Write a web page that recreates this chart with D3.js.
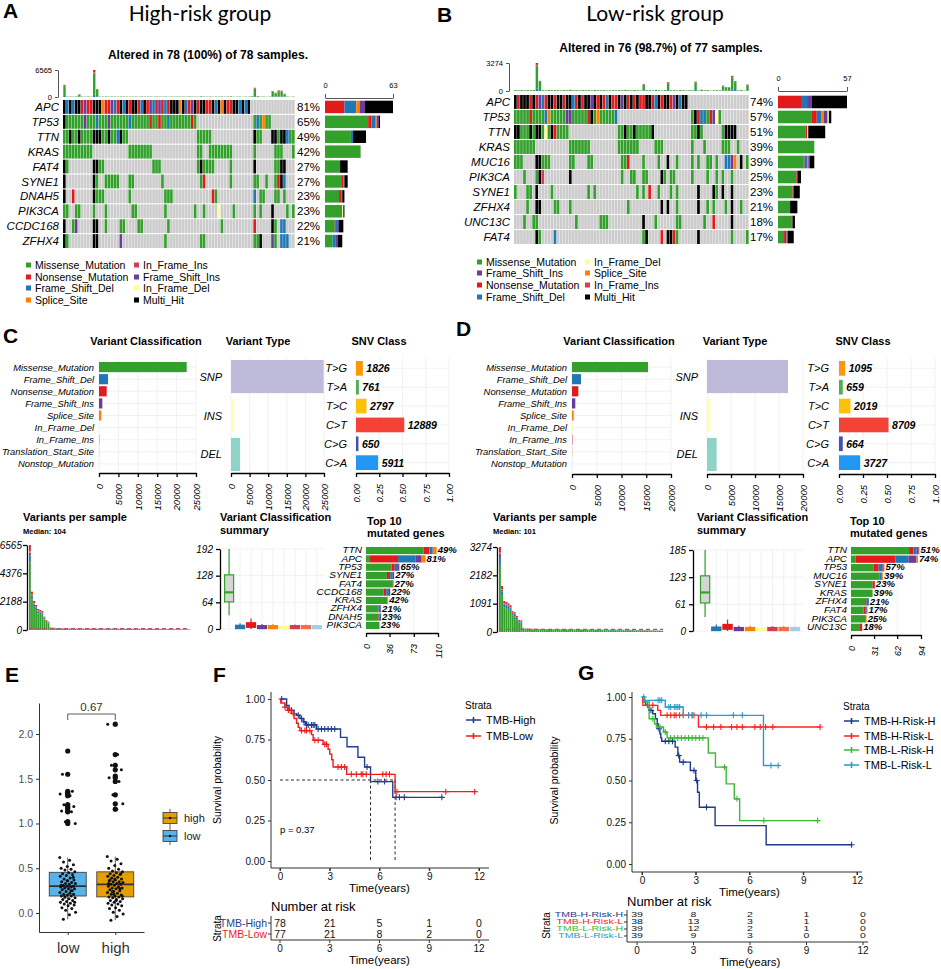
<!DOCTYPE html>
<html>
<head>
<meta charset="utf-8">
<script src="https://cdn.jsdelivr.net/npm/d3@7"></script>
<style>
  body { margin: 0; background: #fff; }
  svg { display: block; }
</style>
</head>
<body>
<svg id="fig" width="941" height="969"></svg>
<script>
const FONT = "'Liberation Sans', Arial, Helvetica, sans-serif";
const TFONT = "Lato, 'Open Sans', sans-serif";

// ---------------- data ----------------
const vcNames = ["Missense_Mutation","Frame_Shift_Del","Nonsense_Mutation","Frame_Shift_Ins","Splice_Site",
  "In_Frame_Del","In_Frame_Ins","Translation_Start_Site","Nonstop_Mutation"];
const vcColors = {
  Missense_Mutation: "#33A02C", Nonsense_Mutation: "#E31A1C", Frame_Shift_Del: "#1F78B4",
  Frame_Shift_Ins: "#6A3D9A", Splice_Site: "#FF7F00", In_Frame_Del: "#FFFF99",
  In_Frame_Ins: "#D53E4F", Translation_Start_Site: "#F46D43", Nonstop_Mutation: "#A6CEE3",
  Multi_Hit: "#000000"
};
const codeClass = { M: "Missense_Mutation", N: "Nonsense_Mutation", D: "Frame_Shift_Del", I: "Frame_Shift_Ins",
  S: "Splice_Site", d: "In_Frame_Del", i: "In_Frame_Ins", X: "Multi_Hit" };

// oncoplot A (high risk)
const genesHigh = ["APC","TP53","TTN","KRAS","FAT4","SYNE1","DNAH5","PIK3CA","CCDC168","ZFHX4"];
const pctHigh = ["81%","65%","49%","42%","27%","27%","23%","23%","22%","21%"];
const cellsHigh = [
  [[0,"XDXDXXNINNXXXSNNIDNXDXNXXNDXNIDNINDNXXXSXDNIXNXXNNXDXSXNNXXDXDX"]],
  [[0,"XMMMMMMIMMMDMMMIMMMMMMDMMMMMMNMMNMMDMMMMMMMNM"],[64,"MDMSMM"]],
  [[0,"MMXMMXMMMMXXXMMXMMDXMM"],[45,"MMMMM"],[64,"XMM"],[70,"XXMXXDMM"]],
  [[0,"MMMMMMMMMM"],[22,"MMMMMMMM"],[45,"MM"],[49,"MMMMMMMM"],[64,"M"],[71,"MMM"],[77,"M"]],
  [[0,"XM"],[10,"XXMM"],[30,"MMM"],[45,"MXMM"],[49,"MM"],[56,"M"],[64,"X"],[71,"MMXX"]],
  [[0,"X"],[10,"XM"],[14,"MMMMM"],[22,"MM"],[33,"M"],[46,"MN"],[56,"M"],[64,"MM"],[68,"M"],[71,"MNXD"]],
  [[0,"X"],[3,"N"],[10,"XMMM"],[22,"M"],[34,"MMM"],[50,"NM"],[64,"D"],[66,"MM"],[71,"MM"],[74,"M"]],
  [[0,"MM"],[4,"MM"],[10,"M"],[14,"M"],[23,"MM"],[34,"M"],[44,"M"],[47,"M"],[52,"d"],[57,"M"],[64,"M"],[66,"M"],[70,"X"],[75,"M"],[77,"M"]],
  [[0,"X"],[3,"MI"],[10,"XX"],[14,"M"],[19,"MM"],[25,"MM"],[35,"M"],[53,"M"],[64,"N"],[70,"XM"],[73,"DD"]],
  [[0,"XM"],[10,"XX"],[19,"I"],[34,"M"],[46,"MM"],[64,"MMX"],[70,"IM"],[73,"DDD"]]
];
const tmbHigh = [
  2961, 98, 112, 87, 120, 644, 105, 93, 131, 76,
  6565, 1931, 108, 99, 142, 84, 117, 110, 95, 103,
  127, 88, 106, 91, 113, 72, 119, 100, 97, 109,
  80, 124, 102, 94, 115, 68, 107, 89, 111, 96,
  104, 78, 138, 92, 101, 86, 165, 104, 90, 114,
  74, 106, 99, 121, 82, 108, 150, 63, 97, 103,
  57, 105, 70, 180, 2240, 206, 85, 118, 60, 95,
  1467, 1030, 1622, 1545, 772, 110, 66, 102
];
const legendHigh = [["Missense_Mutation","Nonsense_Mutation","Frame_Shift_Del","Splice_Site"],
                    ["In_Frame_Ins","Frame_Shift_Ins","In_Frame_Del","Multi_Hit"]];

// oncoplot B (low risk)
const genesLow = ["APC","TP53","TTN","KRAS","MUC16","PIK3CA","SYNE1","ZFHX4","UNC13C","FAT4"];
const pctLow = ["74%","57%","51%","39%","39%","25%","23%","21%","18%","17%"];
const cellsLow = [
  [[0,"XNXXXNXNIDNXXNXXNXXDNXNXXIXNXNDXNNXIXNXNXNNXXNDXNXXNIXDXX"]],
  [[0,"MMMMMNMMMMDSMMMMMIIMMMMMNXMSMMMMMD"],[58,"MXNDDMNIdM"]],
  [[0,"XXMMMXMXXMdMXNMMMM"],[34,"MMXMMXMMMMMX"],[58,"MMXM"],[68,"MXXXX"]],
  [[0,"MMMMMMM"],[18,"MMMMMMM"],[34,"MMMMMMM"],[46,"MMM"],[58,"M"],[62,"M"],[68,"MMM"],[73,"M"]],
  [[0,"MMM"],[7,"XXMMM"],[18,"MM"],[24,"MM"],[35,"MMN"],[42,"M"],[47,"M"],[50,"X"],[53,"M"],[58,"M"],[60,"M"],[63,"MM"],[66,"M"],[69,"DDIS"],[74,"X"],[76,"M"]],
  [[3,"M"],[7,"MXi"],[18,"X"],[35,"M"],[38,"MM"],[42,"MM"],[48,"XM"],[51,"MM"],[58,"M"],[63,"M"],[66,"M"],[68,"M"],[71,"M"]],
  [[0,"M"],[4,"MM"],[7,"X"],[12,"M"],[24,"M"],[26,"M"],[40,"M"],[42,"M"],[44,"N"],[47,"M"],[51,"M"],[53,"M"],[60,"X"],[65,"XM"],[68,"X"],[71,"X"]],
  [[4,"M"],[7,"XX"],[13,"MM"],[18,"M"],[37,"M"],[48,"X"],[50,"X"],[53,"M"],[60,"X"],[63,"M"],[65,"M"],[69,"M"],[71,"X"],[74,"M"]],
  [[3,"M"],[6,"MM"],[20,"M"],[28,"MMM"],[42,"X"],[46,"M"],[53,"MM"],[62,"M"],[65,"N"],[71,"X"]],
  [[7,"XM"],[13,"D"],[42,"MX"],[48,"N"],[50,"XX"],[52,"NM"],[60,"X"],[71,"M"],[76,"M"]]
];
const tmbLow = [
  116, 88, 110, 76, 103, 92, 118, 3274, 1190, 103,
  84, 125, 97, 107, 90, 81, 112, 94, 140, 86,
  101, 79, 115, 93, 104, 72, 121, 98, 89, 106,
  68, 96, 109, 83, 113, 91, 135, 100, 77, 117,
  87, 64, 800, 95, 108, 74, 128, 99, 60, 111,
  1030, 85, 102, 70, 119, 92, 56, 105, 82, 1100,
  66, 160, 97, 114, 52, 88, 104, 90, 620, 470,
  450, 1772, 1160, 80, 122, 48, 760
];
const legendLow = [["Missense_Mutation","Frame_Shift_Ins","Nonsense_Mutation","Frame_Shift_Del"],
                   ["In_Frame_Del","Splice_Site","In_Frame_Ins","Multi_Hit"]];

// maf summaries
const vcHigh = [22600, 2330, 1980, 860, 600, 120, 80, 40, 25];
const vcLow  = [15350, 1820, 1280, 670, 340, 100, 90, 40, 20];
const vtNames = ["SNP","INS","DEL"];
const vtColors = ["#BEBADA","#FFFFB3","#8DD3C7"];
const vtHigh = [24900, 850, 2450];
const vtLow  = [16870, 720, 2000];
const snvNames = ["T>G","T>A","T>C","C>T","C>G","C>A"];
const snvColors = ["#FF9800","#4CAF50","#FFC107","#F44336","#3F51B5","#2196F3"];
const snvHigh = [1826, 761, 2797, 12889, 650, 5911];
const snvLow  = [1095, 659, 2019, 8709, 664, 3727];
// per-sample counts per class: [low whisker, q1, median, q3, high whisker]
const vcsHigh = [[33,65,88,130,192],[0,1,4,9,14],[0,4,9,15,25],[0,1,3,8,12],[0,1,4,8,12],
                 [0,1,3,7,10],[0,1,3,8,11],[0,1,3,8,11],[0,1,3,8,10]];
const vcsLow  = [[32,64,88,126,185],[0,1,4,9,15],[0,4,9,15,26],[0,1,3,8,12],[0,1,4,8,12],
                 [0,1,3,7,10],[0,1,3,8,11],[0,1,3,8,11],[0,1,3,8,10]];
const topClasses = ["Missense_Mutation","Nonsense_Mutation","Frame_Shift_Del","Frame_Shift_Ins","Splice_Site"];
const top10High = ["TTN","APC","TP53","SYNE1","FAT4","CCDC168","KRAS","ZFHX4","DNAH5","PIK3CA"];
const top10HighPct = ["49%","81%","65%","27%","27%","22%","42%","21%","23%","23%"];
const top10HighCounts = [[88,9,5,0,6],[6,43,27,9,6],[39,5,5,2,0],[32,5,4,2,0],[41,1,0,0,0],
                         [27,4,4,2,0],[33,0,0,0,1],[19,0,3,1,0],[19,2,2,0,0],[20,0,0,0,1]];
const top10Low = ["TTN","APC","TP53","MUC16","SYNE1","KRAS","ZFHX4","FAT4","PIK3CA","UNC13C"];
const top10LowPct = ["51%","74%","57%","39%","23%","39%","21%","17%","25%","18%"];
const top10LowCounts = [[78,6,4,3,1],[6,54,17,11,2],[30,7,5,2,1],[38,0,3,1,1],[29,3,0,0,0],
                        [29,0,0,0,0],[19,2,3,0,0],[17,2,2,1,0],[20,0,0,0,1],[12,3,0,0,0]];

// E: TMB boxplot
const groupsE = ["low","high"];
const boxE = { low: [-0.07, 0.19, 0.30, 0.455, 0.62], high: [-0.08, 0.18, 0.32, 0.46, 0.63] };
const outLow = [1.81,1.55,1.36,1.34,1.33,1.31,1.21,1.19,1.17,1.14,1.13,1.02,1.00];
const outHigh = [2.11,1.77,1.65,1.60,1.53,1.51,1.47,1.32,1.22,1.16];
const valsLow = [0.62,0.59,0.57,0.54,0.52,0.50,0.49,0.48,0.46,0.45,0.44,0.43,0.42,0.41,0.39,0.38,0.37,0.36,0.35,0.34,
  0.33,0.33,0.32,0.31,0.30,0.30,0.29,0.29,0.28,0.27,0.27,0.26,0.25,0.24,0.23,0.22,0.21,0.21,0.20,0.19,
  0.19,0.18,0.17,0.16,0.15,0.14,0.13,0.12,0.11,0.10,0.09,0.08,0.06,0.05,0.03,0.01,-0.02,-0.07,0.40,0.36,0.31,0.25,0.18,0.12];
const valsHigh = [0.63,0.60,0.58,0.55,0.53,0.50,0.49,0.47,0.46,0.45,0.44,0.43,0.42,0.41,0.40,0.39,0.38,0.37,0.36,0.35,
  0.35,0.34,0.33,0.32,0.32,0.31,0.30,0.29,0.28,0.28,0.27,0.26,0.25,0.24,0.23,0.22,0.21,0.20,0.19,0.18,
  0.18,0.17,0.16,0.15,0.14,0.13,0.12,0.11,0.10,0.09,0.08,0.06,0.05,0.03,0.01,-0.01,-0.04,-0.08,
  0.44,0.38,0.33,0.29,0.24,0.19,0.14,0.37,0.27,0.21];

// F: KM by TMB  ([time, survival after drop])
const kmTmbHigh = [[0.4,0.96],[0.55,0.93],[0.85,0.91],[1.0,0.90],[1.2,0.88],[1.4,0.86],[1.55,0.84],[2.2,0.815],
  [3.65,0.763],[4.04,0.705],[4.7,0.64],[5.1,0.58],[5.46,0.49],[6.8,0.393]];
const cenTmbHigh = [0.1,0.7,1.1,1.3,1.45,1.6,1.7,1.9,2.0,2.1,2.3,2.5,2.7,2.9,3.1,3.3,5.25,5.9,6.3,7.0,7.2,7.5,9.76];
const kmTmbLow = [[0.05,0.975],[0.3,0.95],[0.45,0.93],[0.7,0.91],[0.85,0.88],[1.0,0.85],[1.1,0.825],[1.2,0.805],
  [1.9,0.78],[2.0,0.745],[2.6,0.72],[2.9,0.69],[3.0,0.66],[3.12,0.625],[3.2,0.58],[4.02,0.535],[6.94,0.428]];
const cenTmbLow = [0.3,0.5,0.6,0.8,1.3,1.5,1.6,1.8,2.1,2.3,2.7,2.8,3.5,3.7,3.9,4.3,4.6,4.9,5.0,5.2,6.2,6.4,6.6,7.05,10.0,11.74];
const riskTimes = [0,3,6,9,12];
const riskTmbHigh = [78,21,5,1,0];
const riskTmbLow = [77,21,8,2,0];

// G: KM by TMB x risk
const kmHH = [[0.07,0.97],[0.2,0.95],[0.4,0.92],[0.6,0.90],[0.75,0.87],[0.85,0.84],[0.9,0.81],[1.0,0.78],[1.05,0.755],
  [1.1,0.735],[1.85,0.70],[2.0,0.65],[2.1,0.61],[2.7,0.56],[3.0,0.50],[3.1,0.43],[3.2,0.34],[4.08,0.23],[6.93,0.115]];
const cenHH = [0.5,0.95,1.3,1.5,1.7,2.05,2.3,2.9,3.05,3.6,11.7];
const kmHL = [[0.05,0.95],[0.88,0.92],[1.05,0.89],[3.15,0.82]];
const cenHL = [0.3,0.6,1.4,1.6,1.8,1.9,2.1,2.3,2.6,2.8,2.9,3.6,4.0,4.4,5.0,5.3,5.6,6.3,6.6,6.9,7.3,9.94];
const kmLH = [[0.1,0.97],[0.4,0.87],[0.7,0.84],[0.8,0.82],[1.2,0.79],[1.4,0.755],[3.7,0.665],[4.1,0.58],[4.7,0.48],[5.15,0.39],[5.45,0.26]];
const cenLH = [0.6,1.0,1.3,1.6,1.8,2.0,2.2,2.4,2.6,2.8,3.0,3.2,3.4,4.6,5.3,6.8,9.8];
const kmLL = [[0.15,0.98],[1.3,0.94],[2.3,0.89],[6.78,0.59]];
const cenLL = [0.1,0.9,1.0,1.1,1.5,1.6,1.8,1.9,2.0,2.1,2.6,2.8,3.3,3.6,5.1,5.6,7.2,7.6];
const riskHH = [39,8,2,1,0];
const riskHL = [38,13,3,1,0];
const riskLH = [39,12,2,1,0];
const riskLL = [39,9,3,0,0];

// ---------------- helpers ----------------
const svg = d3.select("#fig");

function txt(g, x, y, s, o = {}) {
  const t = g.append("text").attr("x", x).attr("y", y).text(s)
    .attr("font-size", o.size || 10).attr("font-family", o.family || FONT)
    .attr("text-anchor", o.anchor || "start").attr("fill", o.fill || "#000");
  if (o.weight) t.attr("font-weight", o.weight);
  if (o.style) t.attr("font-style", o.style);
  if (o.baseline) t.attr("dominant-baseline", o.baseline);
  if (o.rotate) t.attr("transform", `rotate(${o.rotate},${x},${y})`);
  if (o.squash) t.attr("x", 0).attr("y", 0).attr("transform", `translate(${x},${y}) scale(1,${o.squash})`);
  return t;
}

function styleAxis(a, size, o = {}) {
  a.attr("font-family", null).attr("font-size", null);
  a.selectAll("text").attr("font-family", FONT).attr("font-size", size)
    .attr("fill", o.fill || "#000").attr("font-style", o.italic ? "italic" : null);
  a.select(".domain").attr("stroke", o.stroke || "#000").attr("stroke-width", o.lw || 1);
  a.selectAll(".tick line").attr("stroke", o.stroke || "#000").attr("stroke-width", o.lw || 1);
}

function rotAxis(g, scale, ticks, yPos, fmt, size) {
  g.append("g").attr("transform", `translate(0,${yPos})`)
    .call(d3.axisBottom(scale).tickValues(ticks).tickSize(4).tickSizeOuter(0).tickFormat(fmt))
    .call(a => {
      styleAxis(a, size, { italic: true, lw: 1.3 });
      a.selectAll("text").attr("transform", "rotate(-90)").attr("text-anchor", "end")
        .attr("x", -11).attr("y", 0).attr("dy", "0.35em");
    });
}

function expandRow(segs, n) {
  const row = new Array(n).fill(null);
  segs.forEach(([s, str]) => {
    for (let k = 0; k < str.length; k++) if (str[k] !== ".") row[s + k] = codeClass[str[k]];
  });
  return row;
}

function fractions(vc, keys) {
  const tot = d3.sum(keys, k => vc[vcNames.indexOf(k)]);
  return Object.fromEntries(keys.map(k => [k, vc[vcNames.indexOf(k)] / tot]));
}

const TMB_KEYS = ["Frame_Shift_Del","Missense_Mutation","Frame_Shift_Ins","Splice_Site","Nonsense_Mutation"];
const VPS_KEYS = ["Missense_Mutation","Frame_Shift_Del","Frame_Shift_Ins","Splice_Site","Nonsense_Mutation"];
const BAR_ORDER = ["Missense_Mutation","Nonsense_Mutation","Frame_Shift_Del","Splice_Site","Frame_Shift_Ins",
  "In_Frame_Ins","In_Frame_Del","Multi_Hit"];

// ---------------- oncoplot ----------------
function oncoplot(c) {
  const g = svg.append("g");
  const x = d3.scaleBand().domain(d3.range(c.n)).range(c.xr);
  const y = d3.scaleBand().domain(c.genes).range(c.yr).paddingInner(0.07);
  const rows = c.cells.map(s => expandRow(s, c.n));

  txt(g, c.titleX, 21, c.title, { size: 21, family: TFONT, anchor: "middle" });
  txt(g, c.subX, c.subY, c.sub, { size: 12, weight: "bold", anchor: "middle" });

  // matrix
  rows.forEach((row, gi) => {
    g.append("g").selectAll("rect").data(row).join("rect")
      .attr("x", (d, i) => x(i)).attr("y", y(c.genes[gi]))
      .attr("width", x.bandwidth() - 0.35).attr("height", y.bandwidth())
      .attr("fill", d => d ? vcColors[d] : "#CCCCCC");
  });

  // top TMB bars
  const ty = d3.scaleLinear().domain([0, c.tmbMax]).range(c.tmbY);
  const fr = fractions(c.vc, TMB_KEYS);
  const stacked = d3.stack().keys(TMB_KEYS)(c.tmb.map(v => Object.fromEntries(TMB_KEYS.map(k => [k, v * fr[k]]))));
  g.append("g").selectAll("g").data(stacked).join("g").attr("fill", s => vcColors[s.key])
    .selectAll("rect").data(s => s).join("rect")
    .attr("x", (d, i) => x(i) + x.bandwidth() * 0.1).attr("width", x.bandwidth() * 0.8)
    .attr("y", d => ty(d[1])).attr("height", d => Math.max(0, ty(d[0]) - ty(d[1])));
  g.append("g").attr("transform", `translate(${c.tmbAxisX},0)`)
    .call(d3.axisLeft(ty).tickValues([0, c.tmbMax]).tickFormat(d3.format("d")).tickSize(3).tickSizeOuter(0))
    .call(a => styleAxis(a, 7.5, { stroke: "#555" }));

  // gene labels & percentages
  g.append("g").selectAll("text").data(c.genes).join("text")
    .attr("x", c.labelX).attr("y", d => y(d) + y.bandwidth() / 2).attr("dy", "0.36em")
    .attr("text-anchor", "end").attr("font-style", "italic").attr("font-size", 11.5)
    .attr("font-family", FONT).text(d => d);
  g.append("g").selectAll("text").data(c.pct).join("text")
    .attr("x", c.pctX).attr("y", (d, i) => y(c.genes[i]) + y.bandwidth() / 2).attr("dy", "0.36em")
    .attr("font-size", 11.5).attr("font-family", FONT).text(d => d);

  // right bar plot
  const bx = d3.scaleLinear().domain([0, c.barMax]).range(c.barX);
  rows.forEach((row, gi) => {
    const segs = [];
    let acc = 0;
    BAR_ORDER.forEach(k => {
      const cnt = row.filter(v => v === k).length;
      if (cnt) { segs.push({ k, a: acc, b: acc + cnt }); acc += cnt; }
    });
    g.append("g").selectAll("rect").data(segs).join("rect")
      .attr("x", d => bx(d.a)).attr("width", d => bx(d.b) - bx(d.a))
      .attr("y", y(c.genes[gi]) + y.bandwidth() * 0.05).attr("height", y.bandwidth() * 0.9)
      .attr("fill", d => vcColors[d.k]);
  });
  g.append("g").attr("transform", `translate(0,${c.barAxisY})`)
    .call(d3.axisTop(bx).tickValues([0, c.barMax]).tickSize(4).tickSizeOuter(0).tickPadding(6))
    .call(a => styleAxis(a, 7.5, { stroke: "#555" }));

  // legend
  c.legend.forEach((col, ci) => col.forEach((k, ri) => {
    g.append("rect").attr("x", c.legendX[ci]).attr("y", c.legendY[ri] - 2.5)
      .attr("width", 5).attr("height", 5).attr("fill", vcColors[k]);
    txt(g, c.legendX[ci] + 9, c.legendY[ri], k, { size: 10.5, baseline: "central" });
  }));
}

oncoplot({
  title: "High-risk group", titleX: 200, sub: "Altered in 78 (100%) of 78 samples.", subX: 208, subY: 59,
  genes: genesHigh, pct: pctHigh, cells: cellsHigh, tmb: tmbHigh, vc: vcHigh, n: 78,
  xr: [63, 295], yr: [100, 248], tmbY: [97, 70], tmbAxisX: 58, tmbMax: 6565,
  labelX: 59, pctX: 297, barX: [325, 393], barMax: 63, barAxisY: 98,
  legend: legendHigh, legendY: [265, 277, 288, 300], legendX: [26, 134]
});
oncoplot({
  title: "Low-risk group", titleX: 655, sub: "Altered in 76 (98.7%) of 77 samples.", subX: 661, subY: 52,
  genes: genesLow, pct: pctLow, cells: cellsLow, tmb: tmbLow, vc: vcLow, n: 77,
  xr: [514, 749], yr: [95, 244], tmbY: [91, 63], tmbAxisX: 509, tmbMax: 3274,
  labelX: 510, pctX: 750, barX: [778, 847], barMax: 57, barAxisY: 91,
  legend: legendLow, legendY: [262, 273, 285, 297], legendX: [477, 585]
});

// ---------------- maf summary ----------------
function gridV(g, scale, ticks, y0, y1) {
  g.append("g").selectAll("line").data(ticks).join("line")
    .attr("x1", d => scale(d)).attr("x2", d => scale(d)).attr("y1", y0).attr("y2", y1)
    .attr("stroke", "#ebebeb").attr("stroke-width", 0.7);
}
function gridH(g, ys, x0, x1) {
  g.append("g").selectAll("line").data(ys).join("line")
    .attr("x1", x0).attr("x2", x1).attr("y1", d => d).attr("y2", d => d)
    .attr("stroke", "#ebebeb").attr("stroke-width", 0.7);
}

function mafSummary(c) {
  const g = svg.append("g");
  c.titles.forEach(([s, x]) => txt(g, x, 345, s, { size: 11, weight: "bold", anchor: "middle" }));

  // Variant Classification
  const x1 = d3.scaleLinear().domain([0, c.vcMax]).range(c.vcX);
  const y1 = d3.scaleBand().domain(vcNames).range([362, 469]).paddingInner(0.16);
  gridV(g, x1, c.vcTicks, 358, c.axisY);
  gridH(g, vcNames.map(n => y1(n) + y1.bandwidth() / 2), c.vcX[0], c.vcX[1]);
  g.append("g").selectAll("rect").data(c.vc).join("rect")
    .attr("x", x1(0)).attr("y", (d, i) => y1(vcNames[i]))
    .attr("width", d => x1(d) - x1(0)).attr("height", y1.bandwidth())
    .attr("fill", (d, i) => vcColors[vcNames[i]]);
  vcNames.forEach(n => txt(g, c.vcLabelX, y1(n) + y1.bandwidth() / 2, n,
    { size: 9.4, style: "italic", anchor: "end", baseline: "central" }));
  rotAxis(g, x1, c.vcTicks, c.axisY, d3.format("d"), 9.5);

  // Variant Type
  const x2 = d3.scaleLinear().domain([0, c.vcMax]).range(c.vtX);
  const y2 = d3.scaleBand().domain(vtNames).range([360, 471]).paddingInner(0.15);
  gridV(g, x2, c.vcTicks, 358, c.axisY);
  g.append("g").selectAll("rect").data(c.vt).join("rect")
    .attr("x", x2(0)).attr("y", (d, i) => y2(vtNames[i]))
    .attr("width", d => x2(d) - x2(0)).attr("height", y2.bandwidth())
    .attr("fill", (d, i) => vtColors[i]);
  vtNames.forEach(n => txt(g, c.vtLabelX, y2(n) + y2.bandwidth() / 2, n,
    { size: 11, style: "italic", anchor: "end", baseline: "central" }));
  rotAxis(g, x2, c.vcTicks, c.axisY, d3.format("d"), 9.5);

  // SNV class
  const snvTot = d3.sum(c.snv);
  const x3 = d3.scaleLinear().domain([0, 1]).range(c.snvX);
  const y3 = d3.scaleBand().domain(snvNames).range([361, 470]).paddingInner(0.22);
  gridV(g, x3, [0, 0.25, 0.5, 0.75, 1], 358, c.axisY);
  gridH(g, snvNames.map(n => y3(n) + y3.bandwidth() / 2), c.snvX[0], c.snvX[1]);
  g.append("g").selectAll("rect").data(c.snv).join("rect")
    .attr("x", x3(0)).attr("y", (d, i) => y3(snvNames[i]))
    .attr("width", d => x3(d / snvTot) - x3(0)).attr("height", y3.bandwidth())
    .attr("fill", (d, i) => snvColors[i]);
  c.snv.forEach((v, i) => {
    txt(g, c.snvLabelX, y3(snvNames[i]) + y3.bandwidth() / 2, snvNames[i],
      { size: 11, style: "italic", anchor: "end", baseline: "central" });
    txt(g, x3(v / snvTot) + 3.5, y3(snvNames[i]) + y3.bandwidth() / 2, v,
      { size: 10.5, style: "italic", weight: "bold", baseline: "central" });
  });
  rotAxis(g, x3, [0, 0.25, 0.5, 0.75, 1], c.axisY, d3.format(".2f"), 9.5);

  // Variants per sample
  txt(g, c.vpsTitleX, 521, "Variants per sample", { size: 11, weight: "bold" });
  txt(g, c.vpsTitleX, 534, c.medianLabel, { size: 7.5, weight: "bold" });
  const sorted = c.tmb.slice().sort((a, b) => b - a);
  const x4 = d3.scaleBand().domain(d3.range(sorted.length)).range(c.vpsX).paddingInner(0.12);
  const y4 = d3.scaleLinear().domain([0, c.vpsMax]).range(c.vpsY);
  const fr = fractions(c.vc, VPS_KEYS);
  const st = d3.stack().keys(VPS_KEYS)(sorted.map(v => Object.fromEntries(VPS_KEYS.map(k => [k, v * fr[k]]))));
  g.append("g").selectAll("g").data(st).join("g").attr("fill", s => vcColors[s.key])
    .selectAll("rect").data(s => s).join("rect")
    .attr("x", (d, i) => x4(i)).attr("width", x4.bandwidth())
    .attr("y", d => y4(d[1])).attr("height", d => Math.max(0, y4(d[0]) - y4(d[1])));
  g.append("line").attr("x1", c.vpsX[0]).attr("x2", c.vpsX[1])
    .attr("y1", y4(c.medianVal)).attr("y2", y4(c.medianVal))
    .attr("stroke", "#C0506E").attr("stroke-width", 1.3).attr("stroke-dasharray", "4,3");
  g.append("g").attr("transform", `translate(${c.vpsAxisX},0)`)
    .call(d3.axisLeft(y4).tickValues(c.vpsTicks).tickFormat(d3.format("d")).tickSize(4).tickSizeOuter(0).tickPadding(1))
    .call(a => styleAxis(a, 10, { italic: true, lw: 1.3 }));

  // Variant classification summary (boxplots)
  txt(g, c.vcsTitleX, 521, "Variant Classification", { size: 11, weight: "bold" });
  txt(g, c.vcsTitleX, 534, "summary", { size: 11, weight: "bold" });
  const x5 = d3.scaleBand().domain(vcNames).range(c.vcsX).paddingInner(0.18);
  const y5 = d3.scaleLinear().domain([0, c.vcsMax]).range(c.vcsY);
  gridH(g, c.vcsTicks.map(v => y5(v)), c.vcsAxisX, c.vcsX[1] + 4);
  gridV(g, d3.scaleIdentity(), vcNames.map(n => x5(n) + x5.bandwidth() / 2), c.vcsY[1], c.vcsY[0]);
  const bx = g.append("g").selectAll("g").data(c.vcsStats).join("g");
  bx.append("line")
    .attr("x1", (d, i) => x5(vcNames[i]) + x5.bandwidth() / 2).attr("x2", (d, i) => x5(vcNames[i]) + x5.bandwidth() / 2)
    .attr("y1", d => y5(d[0])).attr("y2", d => y5(d[4]))
    .attr("stroke", (d, i) => vcColors[vcNames[i]]).attr("stroke-width", 1.2);
  bx.append("rect")
    .attr("x", (d, i) => x5(vcNames[i])).attr("width", x5.bandwidth())
    .attr("y", d => y5(d[3])).attr("height", d => Math.max(1.5, y5(d[1]) - y5(d[3])))
    .attr("fill", (d, i) => i === 0 ? "#D5D5D5" : vcColors[vcNames[i]])
    .attr("stroke", (d, i) => vcColors[vcNames[i]]).attr("stroke-width", 1.2);
  bx.append("line")
    .attr("x1", (d, i) => x5(vcNames[i])).attr("x2", (d, i) => x5(vcNames[i]) + x5.bandwidth())
    .attr("y1", d => y5(d[2])).attr("y2", d => y5(d[2]))
    .attr("stroke", (d, i) => vcColors[vcNames[i]]).attr("stroke-width", 2.2);
  g.append("g").attr("transform", `translate(${c.vcsAxisX},0)`)
    .call(d3.axisLeft(y5).tickValues(c.vcsTicks).tickSize(4).tickSizeOuter(0))
    .call(a => styleAxis(a, 10, { italic: true, lw: 1.3 }));

  // Top 10 mutated genes
  txt(g, c.topTitleX, 525, "Top 10", { size: 11, weight: "bold" });
  txt(g, c.topTitleX, 537, "mutated genes", { size: 11, weight: "bold" });
  const y6 = d3.scaleBand().domain(c.topGenes).range(c.topY).paddingInner(0.14);
  const x6 = d3.scaleLinear().domain([0, c.topMax]).range(c.topX);
  gridV(g, x6, c.topTicks, c.topY[0] - 2, c.topAxisY);
  const tst = d3.stack().keys(d3.range(topClasses.length))(c.topCounts);
  g.append("g").selectAll("g").data(tst).join("g").attr("fill", (s, i) => vcColors[topClasses[i]])
    .selectAll("rect").data(s => s).join("rect")
    .attr("y", (d, i) => y6(c.topGenes[i])).attr("height", y6.bandwidth())
    .attr("x", d => x6(d[0])).attr("width", d => x6(d[1]) - x6(d[0]));
  c.topGenes.forEach((gn, i) => {
    const yc = y6(gn) + y6.bandwidth() / 2;
    txt(g, c.topX[0] - 4, yc, gn, { size: 10, style: "italic", anchor: "end", baseline: "central", squash: 0.82 });
    txt(g, x6(d3.sum(c.topCounts[i])) + 1, yc, c.topPct[i],
      { size: 9.6, style: "italic", weight: "bold", baseline: "central", squash: 0.85 });
  });
  rotAxis(g, x6, c.topTicks, c.topAxisY, d3.format("d"), 9);
}

mafSummary({
  vc: vcHigh, vt: vtHigh, snv: snvHigh, tmb: tmbHigh, medianLabel: "Median: 104", medianVal: 104,
  titles: [["Variant Classification", 146], ["Variant Type", 258], ["SNV Class", 379]],
  vcMax: 25000, vcTicks: [0, 5000, 10000, 15000, 20000, 25000], vcX: [99, 196], vcLabelX: 94,
  vtX: [231, 324], vtLabelX: 222, snvX: [356, 449], snvLabelX: 347, axisY: 473,
  vpsTitleX: 23, vpsAxisX: 27, vpsX: [29, 190], vpsY: [630, 545], vpsTicks: [0, 2188, 4376, 6565], vpsMax: 6565,
  vcsTitleX: 220, vcsAxisX: 220, vcsX: [224.6, 321.4], vcsY: [629, 549], vcsTicks: [0, 64, 128, 192], vcsMax: 192,
  vcsStats: vcsHigh,
  topTitleX: 367, topGenes: top10High, topPct: top10HighPct, topCounts: top10HighCounts,
  topX: [366, 438], topMax: 110, topTicks: [0, 36, 73, 110], topY: [547, 629], topAxisY: 633
});
mafSummary({
  vc: vcLow, vt: vtLow, snv: snvLow, tmb: tmbLow, medianLabel: "Median: 101", medianVal: 101,
  titles: [["Variant Classification", 619], ["Variant Type", 735], ["SNV Class", 863]],
  vcMax: 20000, vcTicks: [0, 5000, 10000, 15000, 20000], vcX: [572, 671], vcLabelX: 567,
  vtX: [707, 803], vtLabelX: 698, snvX: [839, 935], snvLabelX: 829, axisY: 474,
  vpsTitleX: 493, vpsAxisX: 497, vpsX: [499, 663], vpsY: [632, 547], vpsTicks: [0, 1091, 2182, 3274], vpsMax: 3274,
  vcsTitleX: 697, vcsAxisX: 693, vcsX: [700.5, 799.5], vcsY: [631, 550], vcsTicks: [0, 61, 123, 185], vcsMax: 185,
  vcsStats: vcsLow,
  topTitleX: 850, topGenes: top10Low, topPct: top10LowPct, topCounts: top10LowCounts,
  topX: [851, 921], topMax: 94, topTicks: [0, 31, 62, 94], topY: [547, 631], topAxisY: 635
});

// ---------------- E: boxplot ----------------
(function () {
  const g = svg.append("g");
  const colE = { low: "#56B4E9", high: "#E69F00" };
  const y = d3.scaleLinear().domain([-0.212, 2.346]).range([932, 703]);
  const x = d3.scalePoint().domain(groupsE).range([39, 144]).padding(0.604);
  const bw = 37;
  g.append("g").attr("transform", "translate(39,0)")
    .call(d3.axisLeft(y).tickValues([0, 0.5, 1, 1.5, 2]).tickFormat(d3.format(".1f")).tickSize(3).tickSizeOuter(0))
    .call(a => styleAxis(a, 10.5, { fill: "#4D4D4D", stroke: "#333" }));
  g.append("g").attr("transform", "translate(0,932)")
    .call(d3.axisBottom(x).tickSize(3).tickSizeOuter(0).tickPadding(4))
    .call(a => { styleAxis(a, 15, { fill: "#333", stroke: "#333" }); a.selectAll("text").attr("dy", "0.9em"); });

  const vals = { low: valsLow.concat(outLow), high: valsHigh.concat(outHigh) };
  const outs = { low: outLow, high: outHigh };
  groupsE.forEach(k => {
    const s = boxE[k], cx = x(k);
    g.append("line").attr("x1", cx).attr("x2", cx).attr("y1", y(s[0])).attr("y2", y(s[4]))
      .attr("stroke", "#333").attr("stroke-width", 0.8);
    g.append("rect").attr("x", cx - bw / 2).attr("width", bw).attr("y", y(s[3])).attr("height", y(s[1]) - y(s[3]))
      .attr("fill", colE[k]).attr("stroke", "#333").attr("stroke-width", 0.8);
    g.append("line").attr("x1", cx - bw / 2).attr("x2", cx + bw / 2).attr("y1", y(s[2])).attr("y2", y(s[2]))
      .attr("stroke", "#333").attr("stroke-width", 1.6);
    g.append("g").selectAll("circle").data(outs[k]).join("circle")
      .attr("cx", cx).attr("cy", d => y(d)).attr("r", 2.6).attr("fill", "#111");
    g.append("g").selectAll("circle").data(vals[k]).join("circle")
      .attr("cx", (d, i) => cx + (((i * 0.6180339) % 1) - 0.5) * 16)
      .attr("cy", d => y(d)).attr("r", 1.5).attr("fill", "#111");
  });
  // p bracket
  g.append("path").attr("d", `M${x("low")},720V714H${x("high")}V720`).attr("fill", "none")
    .attr("stroke", "#333").attr("stroke-width", 0.8);
  txt(g, (x("low") + x("high")) / 2, 711, "0.67", { size: 11.5, anchor: "middle", fill: "#333" });
  // legend
  [["high", 818], ["low", 836]].forEach(([k, yc]) => {
    g.append("line").attr("x1", 170).attr("x2", 170).attr("y1", yc - 9).attr("y2", yc + 9)
      .attr("stroke", "#333").attr("stroke-width", 0.8);
    g.append("rect").attr("x", 163).attr("y", yc - 5.5).attr("width", 14).attr("height", 11)
      .attr("fill", colE[k]).attr("stroke", "#333").attr("stroke-width", 0.8);
    g.append("line").attr("x1", 163).attr("x2", 177).attr("y1", yc).attr("y2", yc)
      .attr("stroke", "#333").attr("stroke-width", 1);
    g.append("circle").attr("cx", 170).attr("cy", yc).attr("r", 1.3).attr("fill", "#111");
    txt(g, 184, yc, k, { size: 11, baseline: "central", fill: "#222" });
  });
})();

// ---------------- KM panels ----------------
function survAt(steps, t) {
  let s = 1;
  steps.forEach(([tt, ss]) => { if (tt <= t) s = ss; });
  return s;
}

function kmPanel(c) {
  const g = svg.append("g");
  const x = d3.scaleLinear().domain([0, 12]).range(c.xr);
  const y = d3.scaleLinear().domain([0, 1]).range(c.yr);
  const ticksX = [0, 3, 6, 9, 12];

  // axes
  g.append("g").attr("transform", `translate(0,${c.axisY})`)
    .call(d3.axisBottom(x).tickValues(ticksX).tickSize(3).tickSizeOuter(0).tickPadding(2))
    .call(a => { styleAxis(a, 10, { fill: "#111", stroke: "#333" }); a.select(".domain").remove(); });
  g.append("g").attr("transform", `translate(${c.axisX},0)`)
    .call(d3.axisLeft(y).tickValues([0, 0.25, 0.5, 0.75, 1]).tickFormat(d3.format(".2f")).tickSize(3).tickSizeOuter(0))
    .call(a => { styleAxis(a, 10, { fill: "#111", stroke: "#333" }); a.select(".domain").remove(); });
  g.append("path").attr("d", `M${c.axisX},${c.axisTop}V${c.axisY}H${c.axisRight}`)
    .attr("fill", "none").attr("stroke", "#333").attr("stroke-width", 1);
  g.append("g").selectAll("line").data(ticksX).join("line")
    .attr("x1", d => x(d)).attr("x2", d => x(d)).attr("y1", c.axisY).attr("y2", c.axisY + 3)
    .attr("stroke", "#333");
  txt(g, x(6), c.axisY + 24, "Time(years)", { size: 11.5, anchor: "middle" });
  txt(g, c.ylabX, (c.yr[0] + c.yr[1]) / 2, "Survival probability", { size: 10.5, anchor: "middle", rotate: -90 });

  // median lines
  if (c.medians) {
    const dash = { fill: "none", stroke: "#111", "stroke-width": 0.9, "stroke-dasharray": "3,2.5" };
    const p1 = g.append("line").attr("x1", x(0)).attr("x2", x(d3.max(c.medians))).attr("y1", y(0.5)).attr("y2", y(0.5));
    Object.entries(dash).forEach(([k, v]) => p1.attr(k, v));
    c.medians.forEach(m => {
      const p = g.append("line").attr("x1", x(m)).attr("x2", x(m)).attr("y1", y(0.5)).attr("y2", y(0));
      Object.entries(dash).forEach(([k, v]) => p.attr(k, v));
    });
  }

  // curves
  const line = d3.line().x(d => x(d[0])).y(d => y(d[1])).curve(d3.curveStepAfter);
  c.curves.forEach(cv => {
    const last = cv.steps[cv.steps.length - 1][1];
    const pts = [[0, 1], ...cv.steps, [cv.end, last]];
    g.append("path").attr("d", line(pts)).attr("fill", "none").attr("stroke", cv.color).attr("stroke-width", 1.4);
    g.append("g").selectAll("path").data(cv.censor).join("path")
      .attr("d", t => { const px = x(t), py = y(survAt(cv.steps, t));
        return `M${px - 3},${py}H${px + 3}M${px},${py - 3}V${py + 3}`; })
      .attr("stroke", cv.color).attr("stroke-width", 1.1);
  });
  if (c.pText) txt(g, x(0), c.pY, c.pText, { size: 9.5 });

  // legend
  txt(g, c.legX - 1, c.legTitleY, "Strata", { size: 10 });
  c.curves.forEach((cv, i) => {
    const ly = c.legY[i];
    g.append("path").attr("d", `M${c.legX},${ly}H${c.legX + 15}M${c.legX + 7.5},${ly - 3}V${ly + 3}`)
      .attr("stroke", cv.color).attr("stroke-width", 1.6);
    txt(g, c.legX + 20, ly, cv.name, { size: 11, baseline: "central" });
  });

  // risk table
  const r = c.risk;
  const rx = d3.scaleLinear().domain([0, 12]).range(r.xr);
  txt(g, r.leftX, r.titleY, "Number at risk", { size: 13 });
  c.curves.forEach((cv, i) => {
    cv.risk.forEach((v, j) => txt(g, rx(riskTimes[j]), r.rowY[i], v,
      { size: r.fs, anchor: "middle", baseline: "central", fill: "#111", squash: r.squash }));
    txt(g, r.leftX - 4, r.rowY[i], cv.name,
      { size: r.fs, anchor: "end", baseline: "central", fill: cv.color, squash: r.squash });
    g.append("line").attr("x1", r.leftX - 3).attr("x2", r.leftX).attr("y1", r.rowY[i]).attr("y2", r.rowY[i]).attr("stroke", "#333");
  });
  g.append("path").attr("d", `M${r.leftX},${r.topY}V${r.axisY}H${r.right}`)
    .attr("fill", "none").attr("stroke", "#333").attr("stroke-width", 1);
  g.append("g").selectAll("line").data(riskTimes).join("line")
    .attr("x1", d => rx(d)).attr("x2", d => rx(d)).attr("y1", r.axisY).attr("y2", r.axisY + 3).attr("stroke", "#333");
  g.append("g").selectAll("text").data(riskTimes).join("text")
    .attr("x", d => rx(d)).attr("y", r.axisY + 12).attr("text-anchor", "middle")
    .attr("font-size", 10).attr("font-family", FONT).attr("fill", "#111").text(d => d);
  txt(g, rx(6), r.axisY + 24, "Time(years)", { size: 11.5, anchor: "middle" });
  txt(g, r.strataX, (r.rowY[0] + r.rowY[r.rowY.length - 1]) / 2, "Strata", { size: 10, anchor: "middle", rotate: -90 });
}

kmPanel({
  xr: [280, 479], yr: [861, 699], axisX: 271, axisTop: 692, axisY: 868, axisRight: 489, ylabX: 221,
  medians: [5.46, 6.94], pText: "p = 0.37", pY: 833,
  curves: [
    { name: "TMB-High", color: "#1F3F8F", steps: kmTmbHigh, end: 9.76, censor: cenTmbHigh, risk: riskTmbHigh },
    { name: "TMB-Low", color: "#EE1C1C", steps: kmTmbLow, end: 11.74, censor: cenTmbLow, risk: riskTmbLow }
  ],
  legX: 466, legTitleY: 709, legY: [720, 736],
  risk: { xr: [280, 479], leftX: 271, right: 489, titleY: 911, rowY: [923, 934], topY: 916, axisY: 940,
          fs: 10.5, strataX: 221 }
});
kmPanel({
  xr: [642, 857], yr: [864, 697], axisX: 632, axisTop: 692, axisY: 872, axisRight: 862, ylabX: 558,
  curves: [
    { name: "TMB-H-Risk-H", color: "#1B3A8A", steps: kmHH, end: 11.7, censor: cenHH, risk: riskHH },
    { name: "TMB-H-Risk-L", color: "#FF2222", steps: kmHL, end: 9.94, censor: cenHL, risk: riskHL },
    { name: "TMB-L-Risk-H", color: "#3DB83A", steps: kmLH, end: 9.8, censor: cenLH, risk: riskLH },
    { name: "TMB-L-Risk-L", color: "#2A9BC6", steps: kmLL, end: 7.6, censor: cenLL, risk: riskLL }
  ],
  legX: 844, legTitleY: 710, legY: [721, 736, 750, 765],
  risk: { xr: [637, 863], leftX: 627, right: 868, titleY: 906, rowY: [915, 922, 929, 936], topY: 910, axisY: 942,
          fs: 10.5, squash: 0.68, strataX: 550 }
});

// ---------------- panel letters ----------------
[["A", 3, 18], ["B", 437, 22], ["C", 3, 343], ["D", 456, 336], ["E", 5, 682], ["F", 213, 682], ["G", 578, 680]]
  .forEach(([s, x, y]) => txt(svg, x, y, s, { size: 21, weight: "bold" }));
</script>
</body>
</html>
